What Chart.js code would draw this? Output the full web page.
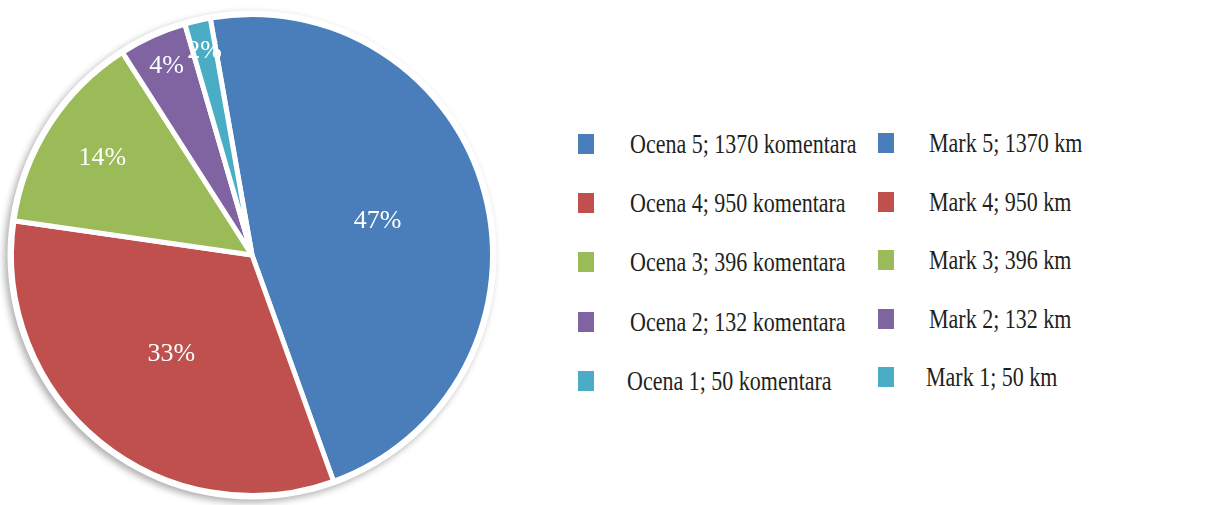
<!DOCTYPE html>
<html><head><meta charset="utf-8">
<script src="https://cdn.jsdelivr.net/npm/chart.js@4.4.0/dist/chart.umd.min.js"></script>
<style>
html,body{margin:0;padding:0;background:#fff;width:1213px;height:505px;overflow:hidden;}
#wrap{position:absolute;left:0;top:0;width:504px;height:510px;}
.sw{position:absolute;width:16px;height:20px;}
.tx{position:absolute;font-family:"Liberation Serif","Times New Roman",serif;font-size:22px;line-height:22px;color:#231f20;white-space:nowrap;transform:scaleY(1.23);transform-origin:0 18.4px;}
</style></head><body>
<div id="wrap"><canvas id="c"></canvas></div>
<div id="legend"></div>
<script>
// ---- data ----
const grades = [5, 4, 3, 2, 1];
const categories = ['Ocena 5', 'Ocena 4', 'Ocena 3', 'Ocena 2', 'Ocena 1'];
const values = [1370, 950, 396, 132, 50];
const percentLabels = ['47%', '33%', '14%', '4%', '2%'];

// ---- style ----
const colors = ['#4a7ebb', '#c0504d', '#9bbb59', '#8064a2', '#4bacc6'];
const labelRadius = [0.54, 0.53, 0.74, 0.86, 0.87];

const shadowPlugin = {
  id: 'shadowRing',
  beforeDatasetsDraw(chart) {
    const arc = chart.getDatasetMeta(0).data[0];
    if (!arc) return;
    const {x, y, outerRadius} = arc.getProps(['x', 'y', 'outerRadius'], true);
    const ctx = chart.ctx;
    ctx.save();
    ctx.shadowColor = 'rgba(0,0,0,0.32)';
    ctx.shadowBlur = 7;
    ctx.shadowOffsetX = -3;
    ctx.shadowOffsetY = 3;
    ctx.beginPath();
    ctx.arc(x, y, outerRadius + 4, 0, Math.PI * 2);
    ctx.fillStyle = '#ffffff';
    ctx.fill();
    ctx.restore();
  }
};

const labelPlugin = {
  id: 'pctLabels',
  afterDatasetsDraw(chart) {
    const ctx = chart.ctx;
    const meta = chart.getDatasetMeta(0);
    ctx.save();
    ctx.font = '26px "Liberation Serif", "Times New Roman", serif';
    ctx.fillStyle = '#ffffff';
    ctx.textAlign = 'center';
    ctx.textBaseline = 'middle';
    meta.data.forEach((arc, i) => {
      const p = arc.getProps(['x', 'y', 'startAngle', 'endAngle', 'outerRadius'], true);
      const mid = (p.startAngle + p.endAngle) / 2;
      const r = p.outerRadius * labelRadius[i];
      ctx.fillText(percentLabels[i], p.x + Math.cos(mid) * r, p.y + Math.sin(mid) * r);
    });
    ctx.restore();
  }
};

new Chart(document.getElementById('c'), {
  type: 'pie',
  data: {
    labels: categories,
    datasets: [{
      data: values,
      backgroundColor: colors,
      borderColor: '#ffffff',
      borderWidth: 5
    }]
  },
  options: {
    responsive: true,
    maintainAspectRatio: false,
    animation: false,
    rotation: -10,
    radius: 240.5,
    layout: {padding: 0},
    plugins: {legend: {display: false}, tooltip: {enabled: false}}
  },
  plugins: [shadowPlugin, labelPlugin]
});

// ---- legend (two columns) ----
const legend = document.getElementById('legend');
grades.forEach((g, i) => {
  const cols = [
    {sx: 578, tx: 630 - (i === 4 ? 3 : 0), top: 134 + i * 59.2, text: categories[i] + '; ' + values[i] + ' komentara'},
    {sx: 878, tx: 929 - (i === 4 ? 3 : 0), top: 133 + i * 58.5, text: 'Mark ' + g + '; ' + values[i] + ' km'}
  ];
  cols.forEach(c => {
    const sw = document.createElement('div');
    sw.className = 'sw';
    sw.style.left = c.sx + 'px';
    sw.style.top = Math.round(c.top) + 'px';
    sw.style.background = colors[i];
    legend.appendChild(sw);
    const t = document.createElement('div');
    t.className = 'tx';
    t.style.left = c.tx + 'px';
    t.style.top = (Math.round(c.top) + 19 - 18.4) + 'px';
    t.textContent = c.text;
    legend.appendChild(t);
  });
});
</script>
</body></html>
